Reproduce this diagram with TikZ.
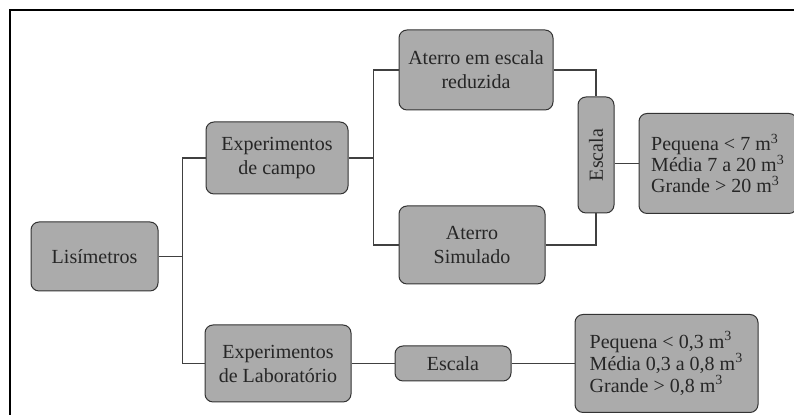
\documentclass[tikz,border=0pt]{standalone}
\usepackage{fontspec}
\setmainfont{Liberation Serif}
\usetikzlibrary{positioning}

\begin{document}
\begin{tikzpicture} [x=0.5pt, y=-0.5pt,
        box/.style = {draw=black!80, fill=black!33, rounded corners=4pt, text=black!85, inner sep=3pt, line width=0.5pt},
        link/.style = {draw=black!75, line width=0.6pt}]
        \useasboundingbox (0,0) rectangle (794,415);
        \draw[line width=0.8pt] (10,415) -- (10,10) -- (794,10);

        %Knoten
        \node[box, minimum width=63.5pt, minimum height=34.5pt] (lis) at (94.5,256.5) {Lisímetros};
        \node[box, minimum width=71pt, minimum height=36pt, align=center] (campo) [above right = 13.5pt and 23.5pt of lis] {Experimentos\\de campo};
        \node[box, minimum width=73pt, minimum height=38.5pt, align=center] (lab) [below right = 16.5pt and 23pt of lis] {Experimentos\\de Laboratório};

        \node[box, minimum width=77pt, minimum height=40pt, align=center] (reduz) [above right = 5.5pt and 25pt of campo] {Aterro em escala\\reduzida};
        \node[box, minimum width=73pt, minimum height=39pt, align=center] (simul) [below right = 5.5pt and 25pt of campo] {Aterro\\Simulado};

        \node[box, minimum width=18pt, minimum height=58pt] (escv) [below right = -7pt and 12pt of reduz] {\rotatebox{90}{Escala}};
        \node[box, minimum width=79pt, minimum height=50pt, align=left] (faixa1) [right = 12pt of escv, yshift=-4.25pt] {Pequena < 7 m\textsuperscript{3}\\[-1.5pt]Média 7 a 20 m\textsuperscript{3}\\[-1.5pt]Grande > 20 m\textsuperscript{3}};

        \node[box, minimum width=58pt, minimum height=17.5pt] (esch) [right = 21.5pt of lab] {Escala};
        \node[box, minimum width=91.5pt, minimum height=49pt, align=left] (faixa2) [right = 31.5pt of esch] {Pequena < 0,3 m\textsuperscript{3}\\[-1pt]Média 0,3 a 0,8 m\textsuperscript{3}\\[-1pt]Grande > 0,8 m\textsuperscript{3}};

        %Kanten
        \draw[link] (lis.east) -- ++(12pt,0);
        \draw[link] (campo.west) -| ([xshift=12pt]lis.east) |- (lab.west);

        \draw[link] (campo.east) -- ++(12.5pt,0);
        \draw[link] (reduz.west) -| ([xshift=12.5pt]campo.east) |- (simul.west);

        \draw[link] (reduz.east) -| (escv.north);
        \draw[link] (simul.east) -| (escv.south);
        \draw[link] (faixa1.west) -- (faixa1.west -| escv.east);

        \draw[link] (lab) -- (esch);
        \draw[link] (esch) -- (faixa2);

    \end{tikzpicture}
\end{document}
